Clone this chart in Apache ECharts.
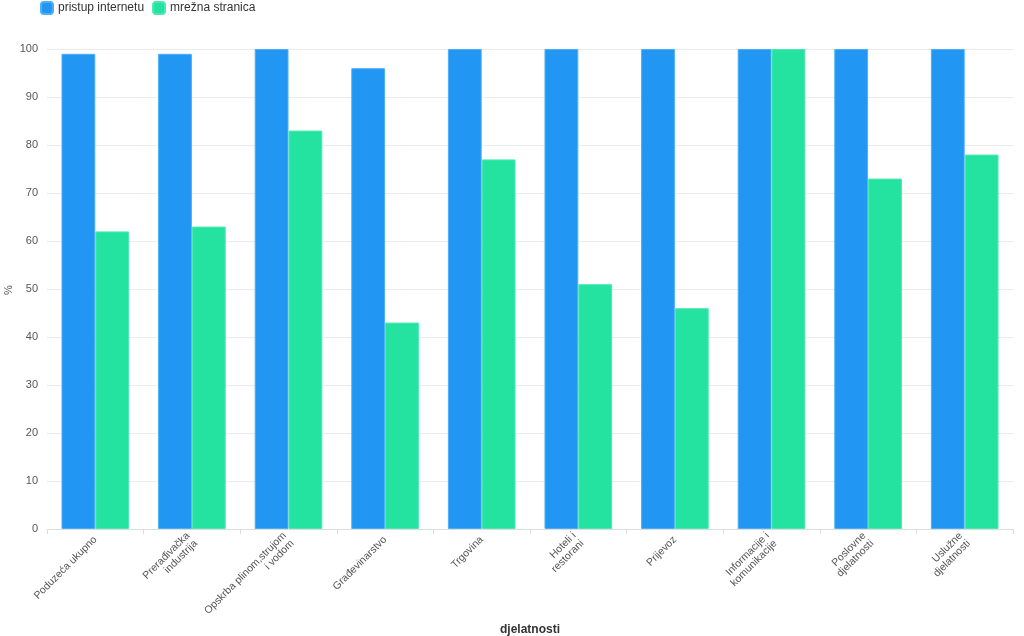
<!DOCTYPE html>
<html><head><meta charset="utf-8">
<script src="https://cdn.jsdelivr.net/npm/echarts@6/dist/echarts.min.js"></script>
<style>html,body{margin:0;padding:0;background:#fff}#c{width:1024px;height:636px}</style>
</head><body><div id="c"></div>
<script>
const categories = ["Poduzeća ukupno","Prerađivačka\nindustrija","Opskrba plinom,strujom\ni vodom","Građevinarstvo","Trgovina","Hoteli i\nrestorani","Prijevoz","Informacije i\nkomunikacije","Poslovne\ndjelatnosti","Uslužne\ndjelatnosti"];
const pristupInternetu = [99,99,100,96,100,100,100,100,100,100];
const mreznaStranica = [62,63,83,43,77,51,46,100,73,78];
const seriesNames = ["pristup internetu","mrežna stranica"];
const xAxisTitle = "djelatnosti";
const yAxisTitle = "%";
const chart = echarts.init(document.getElementById('c'));
const font = "Arial, 'Liberation Sans', sans-serif";
chart.setOption({
  animation:false,
  textStyle:{fontFamily:font},
  color:["#2196F3","#24E3A0"],
  legend:{left:35,top:-4,itemWidth:12,itemHeight:12,itemGap:8,icon:'roundRect',
    textStyle:{fontSize:12,color:'#333',fontFamily:font}},
  grid:{left:47,right:11,top:49,bottom:107,containLabel:false,outerBoundsMode:'none'},
  graphic:[
    {type:'text',left:500,top:624,style:{text:xAxisTitle,fontWeight:'bold',fontSize:12,fill:'#333',fontFamily:font}},
    {type:'text',x:9,y:290,rotation:Math.PI/2,style:{text:yAxisTitle,fontSize:11,fill:'#555',fontFamily:font,align:'center',verticalAlign:'middle'}}
  ],
  xAxis:{type:'category',data:categories,
    axisLine:{lineStyle:{color:'#ddd'}},axisTick:{show:true,lineStyle:{color:'#ddd'}},
    axisLabel:{rotate:45,fontSize:10.5,color:'#555',interval:0,margin:9,align:'right'}},
  yAxis:{type:'value',min:0,max:100,interval:10,
    axisLine:{show:false},axisTick:{show:false},
    axisLabel:{fontSize:11,color:'#555',margin:9},
    splitLine:{lineStyle:{color:'#ebebeb'}}},
  series:[
    {name:seriesNames[0],type:'bar',data:pristupInternetu,barGap:'0%',barCategoryGap:'30%',
      itemStyle:{borderColor:'#4db0f7',borderWidth:1}},
    {name:seriesNames[1],type:'bar',data:mreznaStranica,
      itemStyle:{borderColor:'#4ae9b2',borderWidth:1}}
  ]
});
</script></body></html>
